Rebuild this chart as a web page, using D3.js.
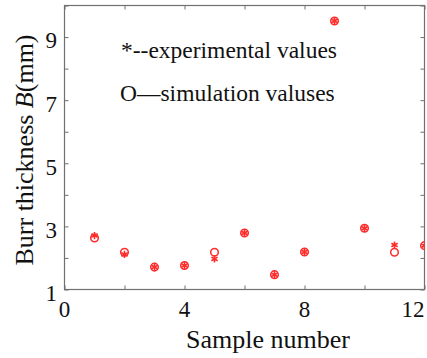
<!DOCTYPE html>
<html>
<head>
<meta charset="utf-8">
<script src="https://cdn.jsdelivr.net/npm/d3@7"></script>
<style>
  body { margin: 0; background: #fff; }
  svg { display: block; }
  text { font-family: "Liberation Serif", "Times New Roman", serif; fill: #111; }
</style>
</head>
<body>
<svg id="chart" width="427" height="358"></svg>
<script>
// sample numbers and measured / simulated burr thickness (mm)
const samples = [1, 2, 3, 4, 5, 6, 7, 8, 9, 10, 11, 12];
const experimental = [2.71, 2.11, 1.71, 1.76, 1.97, 2.79, 1.47, 2.19, 9.51, 2.94, 2.41, 2.39];
const simulation = [2.63, 2.18, 1.71, 1.76, 2.18, 2.79, 1.47, 2.19, 9.51, 2.94, 2.18, 2.39];
const xTickLabels = [0, 4, 8, 12];
const yTickLabels = [1, 3, 5, 7, 9];

const svg = d3.select('#chart');
const W = 427;
const mLeft = 64.5, mRight = 424.5, mTop = 5.5, mBottom = 289.5;

const x = d3.scaleLinear().domain([0, 12]).range([mLeft, mRight]);
const y = d3.scaleLinear().domain([1, 10]).range([mBottom, mTop]);
const axisColor = '#707070';

// clip so the point at x=12 is cut by the frame like the original
svg.append('clipPath').attr('id', 'plotclip')
  .append('rect').attr('x', mLeft).attr('y', mTop).attr('width', mRight - mLeft).attr('height', mBottom - mTop);

// inward ticks on every side
const tl = 4;
const axes = [
  [d3.axisBottom(x).tickValues(d3.range(0, 13, 2)), `translate(0,${mBottom})`],
  [d3.axisTop(x).tickValues(d3.range(0, 13, 2)), `translate(0,${mTop})`],
  [d3.axisLeft(y).tickValues(d3.range(1, 11, 1)), `translate(${mLeft},0)`],
  [d3.axisRight(y).tickValues(d3.range(1, 11, 1)), `translate(${mRight},0)`]
];
axes.forEach(([ax, tr]) => {
  const g = svg.append('g').attr('transform', tr)
    .call(ax.tickSize(-tl).tickFormat(''));
  g.select('.domain').remove();
  g.selectAll('line').attr('stroke', axisColor).attr('stroke-width', 1);
});

svg.append('rect')
  .attr('x', mLeft).attr('y', mTop)
  .attr('width', mRight - mLeft).attr('height', mBottom - mTop)
  .attr('fill', 'none').attr('stroke', axisColor).attr('stroke-width', 1.2);

// tick labels (last x label is pushed inside the window edge, as in the original)
svg.append('g').selectAll('text')
  .data(xTickLabels).enter().append('text')
  .attr('x', d => Math.min(x(d), W - 1))
  .attr('y', 317)
  .attr('text-anchor', d => x(d) + 12 > W ? 'end' : 'middle')
  .attr('font-size', 23)
  .text(d => d);

svg.append('g').selectAll('text')
  .data(yTickLabels).enter().append('text')
  .attr('x', 57).attr('y', d => y(d) + 4)
  .attr('dy', '0.32em')
  .attr('text-anchor', 'end').attr('font-size', 23)
  .text(d => d);

// axis titles
svg.append('text')
  .attr('x', 268).attr('y', 348)
  .attr('text-anchor', 'middle').attr('font-size', 26)
  .text('Sample number');

const yl = svg.append('text')
  .attr('transform', 'translate(33,150) rotate(-90)')
  .attr('text-anchor', 'middle').attr('font-size', 26);
yl.append('tspan').text('Burr thickness ');
yl.append('tspan').attr('font-style', 'italic').text('B');
yl.append('tspan').text('(mm)');

// legend text inside plot
svg.append('text').attr('x', 121).attr('y', 58).attr('font-size', 23.5)
  .text('*--experimental values');
svg.append('text').attr('x', 120).attr('y', 101).attr('font-size', 23.5)
  .text('O\u2014simulation valuses');

const red = '#ff2a2a';
const plot = svg.append('g').attr('clip-path', 'url(#plotclip)');

// simulation: open circles
plot.selectAll('circle.sim')
  .data(samples).enter().append('circle')
  .attr('class', 'sim')
  .attr('cx', d => x(d)).attr('cy', (d, i) => y(simulation[i]))
  .attr('r', 3.8)
  .attr('fill', 'none').attr('stroke', red).attr('stroke-width', 1.5);

// experimental: asterisk markers
const star = d3.symbol().type(d3.symbolAsterisk).size(36);
plot.selectAll('path.exp')
  .data(samples).enter().append('path')
  .attr('class', 'exp')
  .attr('transform', (d, i) => `translate(${x(d)},${y(experimental[i])})`)
  .attr('d', star)
  .attr('fill', 'none').attr('stroke', red).attr('stroke-width', 1.6);
</script>
</body>
</html>
